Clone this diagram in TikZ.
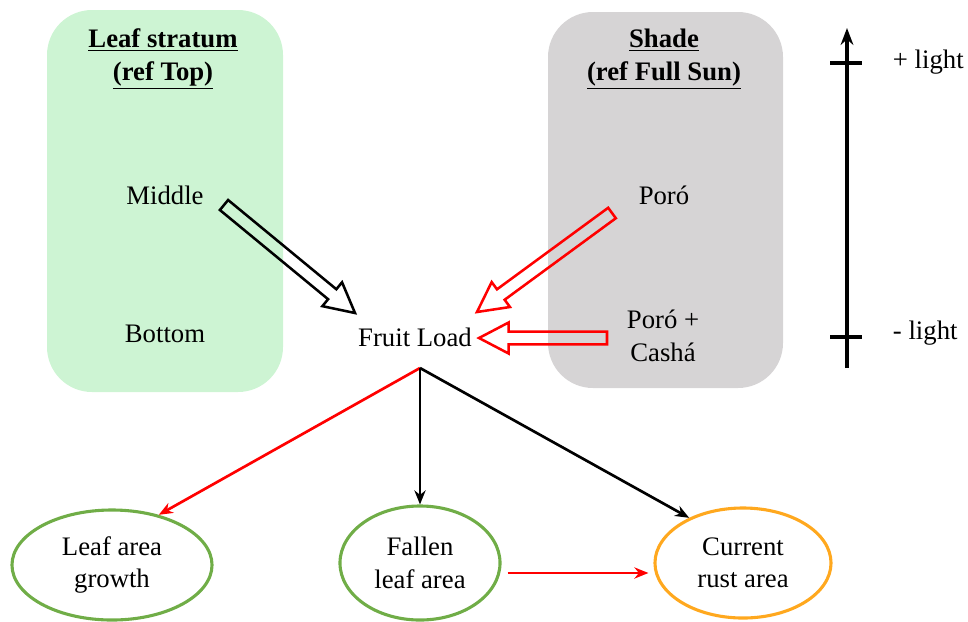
\documentclass[tikz,border=0pt]{standalone}
\usepackage{fontspec}
\setmainfont{Liberation Serif}
\usetikzlibrary{calc,arrows.meta,shapes.geometric}

\definecolor{leafgreen}{RGB}{205,244,211}
\definecolor{shadegray}{RGB}{214,212,213}
\definecolor{ringgreen}{RGB}{112,173,71}
\definecolor{ringorange}{RGB}{255,168,30}

% hollow block arrow: #1 colour, #2 tail, #3 tip
\newcommand{\hollowarrow}[3]{%
  \draw[hollow, draw=#1] (#3)
    -- ($(#3)!21pt!(#2)!11pt!90:(#2)$) -- ($(#3)!21pt!(#2)!4.6pt!90:(#2)$)
    -- ($(#2)!4.6pt!-90:(#3)$) -- ($(#2)!4.6pt!90:(#3)$)
    -- ($(#3)!21pt!(#2)!4.6pt!-90:(#2)$) -- ($(#3)!21pt!(#2)!11pt!-90:(#2)$)
    -- cycle;}

\begin{document}
\begin{tikzpicture}[x=0.025cm, y=-0.025cm,
  every node/.style={font=\fontsize{19}{23}\selectfont, align=center},
  hollow/.style={line width=1.8pt, line join=miter},
  ring/.style={ellipse, line width=2.2pt, inner sep=0pt},
  link/.style={line width=1.9pt, -{Stealth[length=10pt, width=8pt]}},
  title/.style={font=\fontsize{19}{23}\selectfont\bfseries}
]
\useasboundingbox (0,0) rectangle (968,621);

% boxes
\fill[leafgreen, rounded corners=32pt] (47,10) rectangle (283,392);
\fill[shadegray, rounded corners=32pt] (548,12) rectangle (783,388);

\node[title] (leaftitle) at (163,59) {\underline{Leaf stratum}\\\underline{(ref Top)}};
\node[title] (shadetitle) at (664,59) {\underline{Shade}\\\underline{(ref Full Sun)}};

\node (middle) at (165,195) {Middle};
\node (bottom) at (165,334) {Bottom};
\node (poro) at (664,195) {Poró};
\node (porocasha) at (663,336) {Poró +\\Cashá};
\node (fruit) at (415,337) {Fruit Load};

% hollow arrows into fruit load
\coordinate (midtail) at (224,205);
\coordinate (midtip) at (355,313);
\coordinate (porotail) at (612,213);
\coordinate (porotip) at (477,312);
\coordinate (pctail) at (607,338);
\coordinate (pctip) at (479,338);
\hollowarrow{black}{midtail}{midtip}
\hollowarrow{red}{porotail}{porotip}
\hollowarrow{red}{pctail}{pctip}

% light axis
\coordinate (axbot) at (847,368);
\coordinate (axtop) at (847,28);
\draw[line width=2.2pt, -{Stealth[length=12pt, width=9pt]}] (axbot) -- (axtop);
\draw[line width=2.2pt] (830,63) -- (862,63);
\draw[line width=2.2pt] (830,337) -- (862,337);
\node[anchor=west] (more) at (888,62) {+ light};
\node[anchor=west] (less) at (888,333) {- light};

% outcomes
\node[ring, draw=ringgreen, minimum width=5cm, minimum height=2.75cm] (growth) at (112,565) {Leaf area\\growth};
\node[ring, draw=ringgreen, minimum width=4cm, minimum height=2.85cm] (fallen) at (420,563) {Fallen\\leaf area};
\node[ring, draw=ringorange, minimum width=4.4cm, minimum height=2.75cm] (rust) at (743,563) {Current\\rust area};

\coordinate (hub) at (420,368);
\draw[link, red] (hub) -- (growth.47);
\draw[link] (hub) -- (fallen.north);
\draw[link] (hub) -- (rust.140);
\draw[link, red] ([shift={(6,10)}]fallen.east) -- ([shift={(-5,10)}]rust.west);
\end{tikzpicture}
\end{document}
